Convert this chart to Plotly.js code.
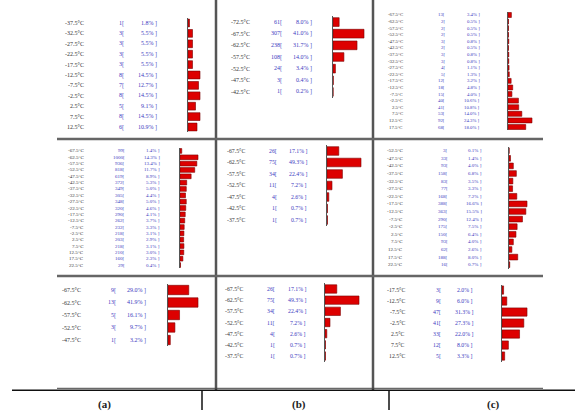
<!DOCTYPE html>
<html><head><meta charset="utf-8">
<script src="https://cdn.plot.ly/plotly-3.0.1.min.js"></script>
<style>html,body{margin:0;padding:0;background:#fff}#chart{width:575px;height:413px}</style>
</head><body><div id="chart"></div>
<script>
// ---- data ----
const labelsA1 = ["-37.5°C","-32.5°C","-27.5°C","-22.5°C","-17.5°C","-12.5°C","-7.5°C","-2.5°C","2.5°C","7.5°C","12.5°C"];
const countsA1 = [1,3,3,3,3,8,7,8,5,8,6];
const pctA1 = ["1.8","5.5","5.5","5.5","5.5","14.5","12.7","14.5","9.1","14.5","10.9"];

const labelsA2 = ["-67.5°C","-62.5°C","-57.5°C","-52.5°C","-47.5°C","-42.5°C","-37.5°C","-32.5°C","-27.5°C","-22.5°C","-17.5°C","-12.5°C","-7.5°C","-2.5°C","2.5°C","7.5°C","12.5°C","17.5°C","22.5°C"];
const countsA2 = [99,1000,936,818,619,372,349,305,348,320,290,262,232,218,203,218,210,160,29];
const pctA2 = ["1.4","14.3","13.4","11.7","8.9","5.3","5.0","4.4","5.0","4.6","4.1","3.7","3.3","3.1","2.9","3.1","3.0","2.3","0.4"];

const labelsA3 = ["-67.5°C","-62.5°C","-57.5°C","-52.5°C","-47.5°C"];
const countsA3 = [9,13,5,3,1];
const pctA3 = ["29.0","41.9","16.1","9.7","3.2"];

const labelsB1 = ["-72.5°C","-67.5°C","-62.5°C","-57.5°C","-52.5°C","-47.5°C","-42.5°C"];
const countsB1 = [61,307,238,108,24,3,1];
const pctB1 = ["8.0","41.0","31.7","14.0","3.4","0.4","0.2"];

const labelsB2 = ["-67.5°C","-62.5°C","-57.5°C","-52.5°C","-47.5°C","-42.5°C","-37.5°C"];
const countsB2 = [26,75,34,11,4,1,1];
const pctB2 = ["17.1","49.3","22.4","7.2","2.6","0.7","0.7"];

const labelsB3 = ["-67.5°C","-62.5°C","-57.5°C","-52.5°C","-47.5°C","-42.5°C","-37.5°C"];
const countsB3 = [26,75,34,11,4,1,1];
const pctB3 = ["17.1","49.3","22.4","7.2","2.6","0.7","0.7"];

const labelsC1 = ["-67.5°C","-62.5°C","-57.5°C","-52.5°C","-47.5°C","-42.5°C","-37.5°C","-32.5°C","-27.5°C","-22.5°C","-17.5°C","-12.5°C","-7.5°C","-2.5°C","2.5°C","7.5°C","12.5°C","17.5°C"];
const countsC1 = [13,2,2,2,3,2,3,3,4,5,12,18,15,40,41,53,92,68];
const pctC1 = ["3.4","0.5","0.5","0.5","0.8","0.5","0.8","0.8","1.1","1.3","3.2","4.8","4.0","10.6","10.8","14.0","24.3","18.0"];

const labelsC2 = ["-52.5°C","-47.5°C","-42.5°C","-37.5°C","-32.5°C","-27.5°C","-22.5°C","-17.5°C","-12.5°C","-7.5°C","-2.5°C","2.5°C","7.5°C","12.5°C","17.5°C","22.5°C"];
const countsC2 = [3,33,93,158,83,77,168,388,363,290,175,150,93,62,188,16];
const pctC2 = ["0.1","1.4","4.0","6.8","3.5","3.3","7.2","16.6","15.5","12.4","7.5","6.4","4.0","2.6","8.0","0.7"];

const labelsC3 = ["-17.5°C","-12.5°C","-7.5°C","-2.5°C","2.5°C","7.5°C","12.5°C"];
const countsC3 = [3,9,47,41,33,12,5];
const pctC3 = ["2.0","6.0","31.3","27.3","22.0","8.0","3.3"];

const panelTitles = ["(a)","(b)","(c)"];

// ---- layout geometry (pixels) ----
const W = 575, H = 413;
const px = v => v / W;
const py = v => 1 - v / H;

const panels = [
  {lab: labelsA1, cnt: countsA1, pct: pctA1, top: 17.8, bot: 132.2, x0: 188, x1: 212, rmax: 16, labR: 85, cntR: 125, pctR: 158, fs: 6},
  {lab: labelsA2, cnt: countsA2, pct: pctA2, top: 147.8, bot: 268.2, x0: 180, x1: 210, rmax: 1667, labR: 85, cntR: 126, pctR: 161, fs: 5},
  {lab: labelsA3, cnt: countsA3, pct: pctA3, top: 283.75, bot: 346.25, x0: 168, x1: 205, rmax: 16.03, labR: 82, cntR: 117, pctR: 147, fs: 6},
  {lab: labelsB1, cnt: countsB1, pct: pctB1, top: 16.2, bot: 97.8, x0: 333, x1: 368, rmax: 346.6, labR: 251, cntR: 283, pctR: 313, fs: 6},
  {lab: labelsB2, cnt: countsB2, pct: pctB2, top: 145.25, bot: 225.75, x0: 327, x1: 366, rmax: 86, labR: 246, cntR: 278, pctR: 308, fs: 5.8},
  {lab: labelsB3, cnt: countsB3, pct: pctB3, top: 283.4, bot: 361.6, x0: 325, x1: 364, rmax: 86, labR: 244, cntR: 276, pctR: 307, fs: 5.8},
  {lab: labelsC1, cnt: countsC1, pct: pctC1, top: 11.7, bot: 130.3, x0: 508, x1: 540, rmax: 122.7, labR: 404, cntR: 446, pctR: 481, fs: 4.8},
  {lab: labelsC2, cnt: countsC2, pct: pctC2, top: 146.9, bot: 268.5, x0: 509, x1: 540, rmax: 668, labR: 404, cntR: 449, pctR: 483, fs: 5},
  {lab: labelsC3, cnt: countsC3, pct: pctC3, top: 284.5, bot: 361.5, x0: 502, x1: 535, rmax: 62, labR: 406, cntR: 442, pctR: 474, fs: 5.8}
];

const serif = '"Liberation Serif", "DejaVu Serif", serif';
const traces = [];
const layout = {
  width: W, height: H, autosize: false,
  margin: {l: 0, r: 0, t: 0, b: 0, pad: 0},
  paper_bgcolor: '#fff', plot_bgcolor: 'rgba(0,0,0,0)',
  showlegend: false, bargap: 0.25,
  annotations: [], shapes: []
};

panels.forEach((p, idx) => {
  const k = idx + 1;
  const sfx = k === 1 ? '' : String(k);
  const n = p.lab.length;
  traces.push({
    type: 'bar', orientation: 'h', x: p.cnt, y: p.lab,
    xaxis: 'x' + sfx, yaxis: 'y' + sfx, width: 0.75,
    marker: {color: '#dd0000', line: {color: '#7a0000', width: 0.6}},
    hoverinfo: 'skip'
  });
  layout['xaxis' + sfx] = {
    domain: [px(p.x0), px(p.x1)], range: [0, p.rmax], anchor: 'y' + sfx,
    showgrid: false, zeroline: false, showline: false, showticklabels: false, ticks: '', fixedrange: true
  };
  layout['yaxis' + sfx] = {
    domain: [py(p.bot), py(p.top)], range: [n - 0.5, -0.5], anchor: 'x' + sfx,
    type: 'category', categoryorder: 'array', categoryarray: p.lab,
    showgrid: false, zeroline: false, showline: true, linecolor: '#555', linewidth: 1,
    showticklabels: false, ticks: '', fixedrange: true
  };
  p.lab.forEach((lab, i) => {
    const base = {xref: 'paper', yref: 'y' + sfx, y: i, showarrow: false, xanchor: 'right', yanchor: 'middle', borderpad: 0};
    layout.annotations.push(Object.assign({}, base, {x: px(p.labR), text: lab, font: {family: serif, size: p.fs, color: '#333'}}));
    layout.annotations.push(Object.assign({}, base, {x: px(p.cntR), text: p.cnt[i] + '[', font: {family: serif, size: p.fs, color: '#3a3ac0'}}));
    layout.annotations.push(Object.assign({}, base, {x: px(p.pctR), text: p.pct[i] + '% ]', font: {family: serif, size: p.fs, color: '#3a3ac0'}}));
  });
});

function line(x0, y0, x1, y1, color, width) {
  layout.shapes.push({type: 'line', xref: 'paper', yref: 'paper', x0: px(x0), y0: py(y0), x1: px(x1), y1: py(y1), line: {color: color, width: width}});
}
// panel separators
line(216, 0, 216, 390, '#555', 2.5);
line(373, 0, 373, 390, '#555', 2.5);
line(57, 139, 543, 139, '#666', 2.5);
line(57, 276, 543, 276, '#666', 2.5);
// bottom rules and ticks
line(57, 388.3, 543, 388.3, '#444', 1);
line(12, 390.3, 575, 390.3, '#111', 1.5);
line(202, 390, 202, 410, '#111', 1.5);
line(389, 390, 389, 410, '#111', 1.5);

[104, 299, 493].forEach((x, i) => {
  layout.annotations.push({xref: 'paper', yref: 'paper', x: px(x), y: py(404), text: '<b>' + panelTitles[i] + '</b>',
    showarrow: false, xanchor: 'center', yanchor: 'middle', font: {family: serif, size: 11, color: '#222'}});
});

Plotly.newPlot('chart', traces, layout, {staticPlot: true, displayModeBar: false});
</script>
</body></html>
